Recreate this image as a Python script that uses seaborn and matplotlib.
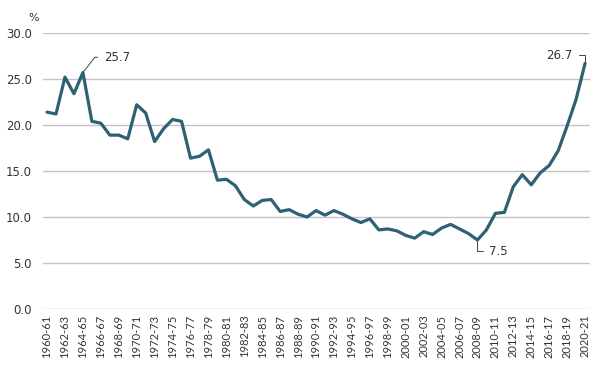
import pandas as pd
import seaborn as sns
import matplotlib.pyplot as plt

# Anos fiscais 1960-61 ... 2020-21
anos = [f"{a}-{str(a + 1)[-2:]}" for a in range(1960, 2021)]

valores = [
    21.4, 21.2, 25.2, 23.4, 25.7, 20.4, 20.2, 18.9, 18.9, 18.5,
    22.2, 21.3, 18.2, 19.6, 20.6, 20.4, 16.4, 16.6, 17.3, 14.0,
    14.1, 13.4, 11.9, 11.2, 11.8, 11.9, 10.6, 10.8, 10.3, 10.0,
    10.7, 10.2, 10.7, 10.3, 9.8, 9.4, 9.8, 8.6, 8.7, 8.5,
    8.0, 7.7, 8.4, 8.1, 8.8, 9.2, 8.7, 8.2, 7.5, 8.6,
    10.4, 10.5, 13.3, 14.6, 13.5, 14.8, 15.6, 17.2, 19.9, 22.8,
    26.7,
]

# pontos destacados: (indice, deslocamento do texto em pontos, alinhamento)
destaques = [
    (4, (15, 11), 'left', (0, 0.5), 52),
    (48, (8, -8), 'left', (0, 0.5), 90),
    (60, (-9, 6), 'right', (1, 0.5), 90),
]

df = pd.DataFrame({'ano': anos, 'valor': valores})
df['pos'] = range(len(df))

cor = '#2d6174'

sns.set_style('white')
plt.rcParams['font.family'] = ['DejaVu Sans']

fig = plt.figure(figsize=(6.09, 3.76), dpi=100)
ax = fig.add_axes([43 / 609, 1 - 309 / 376, 547 / 609, 276 / 376])

sns.lineplot(data=df, x='pos', y='valor', color=cor, linewidth=2.3, ax=ax)

ax.set_ylim(0, 30)
ax.set_xlim(-0.45, 60.55)
ax.set_yticks([0, 5, 10, 15, 20, 25, 30])
ax.set_yticklabels([f"{v:.1f}" for v in [0, 5, 10, 15, 20, 25, 30]],
                   fontsize=8.5, color='#333333')
ax.set_xticks(df['pos'][::2])
ax.set_xticklabels(df['ano'][::2], rotation=90, fontsize=8,
                   family='Lato', color='#333333')
ax.tick_params(axis='both', length=0, pad=8)
ax.tick_params(axis='x', pad=4)
ax.yaxis.grid(True, color='#c4c4c4', linewidth=1)
ax.set_axisbelow(True)
for s in ax.spines.values():
    s.set_visible(False)
ax.set_xlabel('')
ax.set_ylabel('')

ax.annotate('%', xy=(0, 1), xycoords='axes fraction', xytext=(-7, 11),
            textcoords='offset points', ha='center', va='center',
            fontsize=8, color='#333333')

for i, off, ha, rp, ang in destaques:
    ax.annotate(f"{valores[i]:.1f}", xy=(i, valores[i]), xytext=off,
                textcoords='offset points', ha=ha, va='center',
                fontsize=8.5, color='#333333',
                arrowprops=dict(arrowstyle='-', color='#444444', lw=0.7,
                                relpos=rp, shrinkA=2, shrinkB=0.5,
                                connectionstyle=f'angle,angleA=0,angleB={ang},rad=0'))

plt.savefig('out.png', dpi=100)
